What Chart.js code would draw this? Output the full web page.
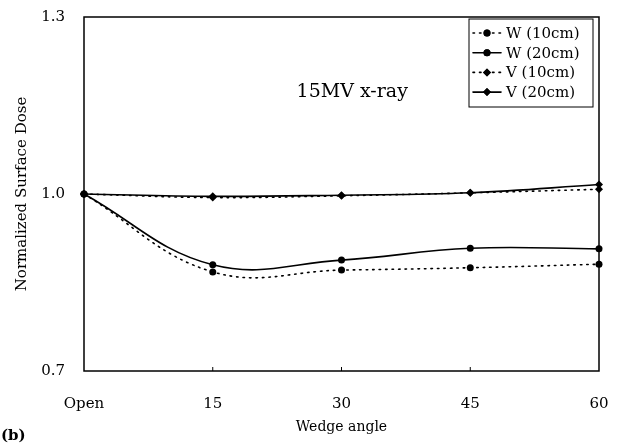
<!DOCTYPE html>
<html>
<head>
<meta charset="utf-8">
<script src="https://cdn.jsdelivr.net/npm/chart.js@4.4.0/dist/chart.umd.min.js"></script>
<style>
    html, body { margin: 0; padding: 0; background: #fff; }
    #contenitore { width: 624px; height: 445px; }
</style>
</head>
<body>
<div id="contenitore"><canvas id="grafico-dose" width="624" height="445"></canvas></div>
<script>
var angoli = ['Open', '15', '30', '45', '60'];
var doseW10 = [1.0, 0.868, 0.871, 0.875, 0.881];
var doseW20 = [1.0, 0.880, 0.888, 0.908, 0.907];
var doseV10 = [1.0, 0.994, 0.997, 1.002, 1.008];
var doseV20 = [1.0, 0.996, 0.998, 1.002, 1.016];
var tickY = [0.7, 1.0, 1.3];
var nomiSerie = ['W (10cm)', 'W (20cm)', 'V (10cm)', 'V (20cm)'];

var fontSerif = "'DejaVu Serif', 'Liberation Serif', serif";
var puntini = [1.5, 5];

function creaSerie(nome, valori, tratteggio, stile) {
    return {
        label: nome,
        data: valori,
        borderColor: '#000',
        backgroundColor: '#000',
        borderWidth: 1.6,
        borderDash: tratteggio,
        borderCapStyle: 'round',
        pointStyle: stile,
        pointRadius: stile === 'circle' ? 3.5 : 4,
        pointBorderWidth: 0,
        pointBackgroundColor: '#000',
        tension: 0.4,
        clip: false
    };
}

// cornice, tacche, legenda e testi
var pluginCornice = {
    id: 'cornice',
    afterDraw: function (chart) {
        var ctx = chart.ctx;
        var area = chart.chartArea;
        var scalaX = chart.scales.x;
        ctx.save();
        ctx.strokeStyle = '#000';
        ctx.lineWidth = 1.5;
        ctx.strokeRect(area.left, area.top, area.right - area.left, area.bottom - area.top);

        ctx.lineWidth = 1;
        for (var i = 1; i < angoli.length - 1; i++) {
            var px = scalaX.getPixelForValue(i);
            ctx.beginPath();
            ctx.moveTo(px, area.bottom);
            ctx.lineTo(px, area.bottom - 4);
            ctx.stroke();
        }

        // legenda
        var larghezza = 124;
        var altezza = 88;
        var lx = area.right - 6 - larghezza;
        var ly = area.top + 2;
        ctx.lineWidth = 1;
        ctx.strokeRect(lx, ly, larghezza, altezza);
        ctx.font = '15px ' + fontSerif;
        ctx.textAlign = 'left';
        ctx.textBaseline = 'middle';
        ctx.fillStyle = '#000';
        for (var j = 0; j < chart.data.datasets.length; j++) {
            var serie = chart.data.datasets[j];
            var ry = ly + 14 + j * 19.7;
            ctx.save();
            ctx.lineWidth = serie.borderWidth;
            ctx.lineCap = 'round';
            ctx.setLineDash(serie.borderDash);
            ctx.beginPath();
            ctx.moveTo(lx + 4, ry);
            ctx.lineTo(lx + 32, ry);
            ctx.stroke();
            ctx.restore();
            Chart.helpers.drawPoint(ctx, {
                pointStyle: serie.pointStyle,
                radius: serie.pointRadius,
                rotation: 0,
                borderWidth: 0
            }, lx + 18, ry);
            ctx.fill();
            ctx.fillText(serie.label, lx + 37, ry + 1);
        }

        ctx.font = '19px ' + fontSerif;
        ctx.textAlign = 'right';
        ctx.textBaseline = 'alphabetic';
        ctx.fillText('15MV x-ray', area.left + (area.right - area.left) * 0.629, area.top + 80);

        ctx.font = 'bold 15px ' + fontSerif;
        ctx.textAlign = 'left';
        ctx.textBaseline = 'middle';
        ctx.fillText('(b)', 1, 436);
        ctx.restore();
    }
};

var ctx = document.getElementById('grafico-dose');
var graficoDose = new Chart(ctx, {
    type: 'line',
    data: {
        labels: angoli,
        datasets: [
            creaSerie(nomiSerie[0], doseW10, puntini, 'circle'),
            creaSerie(nomiSerie[1], doseW20, [], 'circle'),
            creaSerie(nomiSerie[2], doseV10, puntini, 'rectRot'),
            creaSerie(nomiSerie[3], doseV20, [], 'rectRot')
        ]
    },
    options: {
        responsive: false,
        animation: false,
        devicePixelRatio: 1,
        layout: { padding: { left: 0, right: 25, top: 17, bottom: 0 } },
        plugins: {
            legend: { display: false },
            tooltip: { enabled: false }
        },
        scales: {
            x: {
                offset: false,
                grid: { display: false, drawTicks: false },
                border: { display: false },
                ticks: {
                    color: '#000',
                    padding: 24,
                    maxRotation: 0,
                    font: { family: fontSerif, size: 15 }
                },
                title: {
                    display: true,
                    text: 'Wedge angle',
                    color: '#000',
                    padding: { top: 0, bottom: 9 },
                    font: { family: fontSerif, size: 14 }
                },
                afterFit: function (scala) {
                    scala.height = 74;
                    scala.paddingLeft = 0;
                    scala.paddingRight = 0;
                }
            },
            y: {
                min: 0.7,
                max: 1.3,
                grid: { display: false, drawTicks: false },
                border: { display: false },
                afterBuildTicks: function (scala) {
                    scala.ticks = tickY.map(function (v) { return { value: v }; });
                },
                ticks: {
                    color: '#000',
                    padding: 19,
                    font: { family: fontSerif, size: 15 },
                    callback: function (valore) { return Number(valore).toFixed(1); }
                },
                title: {
                    display: true,
                    text: 'Normalized Surface Dose',
                    color: '#000',
                    padding: { top: 13, bottom: 0 },
                    font: { family: fontSerif, size: 15 }
                },
                afterFit: function (scala) {
                    scala.width = 84;
                    scala.paddingTop = 0;
                    scala.paddingBottom = 0;
                }
            }
        }
    },
    plugins: [pluginCornice]
});
</script>
</body>
</html>
